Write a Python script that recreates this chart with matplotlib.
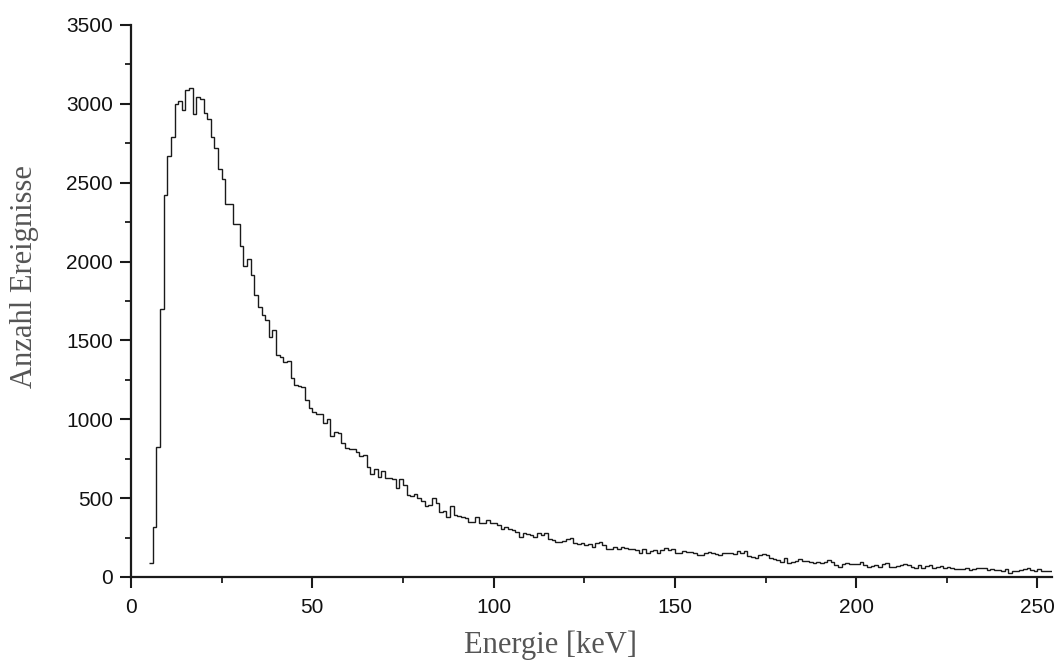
import matplotlib
matplotlib.use("Agg")
import matplotlib.pyplot as plt
import numpy as np
from matplotlib.ticker import MultipleLocator

# Histogram: 1 keV bins, first bin starts at 5 keV
first_edge = 5
counts = [
    87, 319, 826, 1701, 2422, 2669, 2792, 2999, 3020, 2961,          # 5-14
    3088, 3098, 2933, 3041, 3029, 2940, 2902, 2792, 2718, 2587,      # 15-24
    2521, 2365, 2365, 2236, 2236, 2100, 1972, 2016, 1915, 1790,      # 25-34
    1710, 1661, 1629, 1524, 1566, 1407, 1397, 1361, 1372, 1264,      # 35-44
    1217, 1213, 1202, 1122, 1069, 1048, 1031, 1031, 978, 999,        # 45-54
    894, 921, 910, 852, 816, 812, 812, 795, 767, 773,                # 55-64
    699, 653, 682, 636, 674, 630, 626, 619, 562, 619,                # 65-74
    583, 520, 514, 527, 499, 482, 450, 456, 503, 467,                # 75-84
    414, 420, 378, 450, 393, 389, 382, 376, 347, 347,                # 85-94
    378, 345, 340, 361, 345, 340, 330, 302, 315, 302,                # 95-104
    298, 288, 252, 277, 273, 266, 251, 277, 266, 277,                # 105-114
    239, 235, 224, 224, 230, 239, 245, 214, 210, 218,                # 115-124
    203, 210, 192, 214, 224, 203, 177, 175, 192, 175,                # 125-134
    188, 186, 177, 175, 171, 150, 175, 154, 167, 171,                # 135-144
    154, 171, 181, 171, 175, 154, 150, 167, 161, 161,                # 145-154
    150, 142, 139, 154, 161, 150, 146, 139, 154, 150,                # 155-164
    154, 144, 165, 154, 165, 133, 129, 123, 139, 146,                # 165-174
    139, 118, 112, 108, 93, 118, 91, 97, 101, 112,                   # 175-184
    101, 104, 97, 87, 97, 87, 93, 108, 97, 76,                       # 185-194
    66, 80, 87, 82, 80, 82, 93, 76, 66, 70,                          # 195-204
    76, 66, 80, 87, 66, 66, 70, 76, 80, 76,                          # 205-214
    66, 55, 76, 55, 70, 76, 55, 66, 72, 59,                          # 215-224
    66, 55, 51, 49, 51, 55, 44, 49, 55, 59,                          # 225-234
    55, 44, 49, 44, 44, 40, 49, 27, 38, 40,                          # 235-244
    44, 49, 55, 44, 40, 49, 40, 38, 38,                              # 245-253
]
edges = np.arange(first_edge, first_edge + len(counts) + 1)

x_label = "Energie [keV]"
y_label = "Anzahl Ereignisse"

W, H = 1055, 661
fig = plt.figure(figsize=(W / 100, H / 100), dpi=100)
ax = fig.add_axes([131 / W, 1 - 577 / H, (1052 - 131) / W, (577 - 25) / H])

ax.stairs(counts, edges, color="#1a1a1a", linewidth=1.0, baseline=None)

ax.set_xlim(0, 254.0)
ax.set_ylim(0, 3500)

ax.xaxis.set_major_locator(MultipleLocator(50))
ax.xaxis.set_minor_locator(MultipleLocator(25))
ax.yaxis.set_major_locator(MultipleLocator(500))
ax.yaxis.set_minor_locator(MultipleLocator(250))

for s in ["top", "right"]:
    ax.spines[s].set_visible(False)
for s in ["left", "bottom"]:
    ax.spines[s].set_linewidth(1.6)
    ax.spines[s].set_color("#1a1a1a")

ax.tick_params(which="major", direction="out", length=8, width=1.5,
               color="#1a1a1a", labelsize=15, pad=7)
ax.tick_params(axis="y", which="major", pad=5)
ax.tick_params(which="minor", direction="out", length=4.5, width=1.3,
               color="#1a1a1a")
for lab in ax.get_xticklabels() + ax.get_yticklabels():
    lab.set_fontfamily("Liberation Sans")
    lab.set_color("#111111")

fig.text(551 / W, 1 - 645 / H, x_label, fontfamily="Liberation Serif",
         fontsize=22, color="#555555", ha="center", va="center")
fig.text(25 / W, 1 - 277 / H, y_label, fontfamily="Liberation Serif",
         fontsize=22, color="#555555", ha="center", va="center",
         rotation=90)

fig.savefig("out.png", dpi=100)
